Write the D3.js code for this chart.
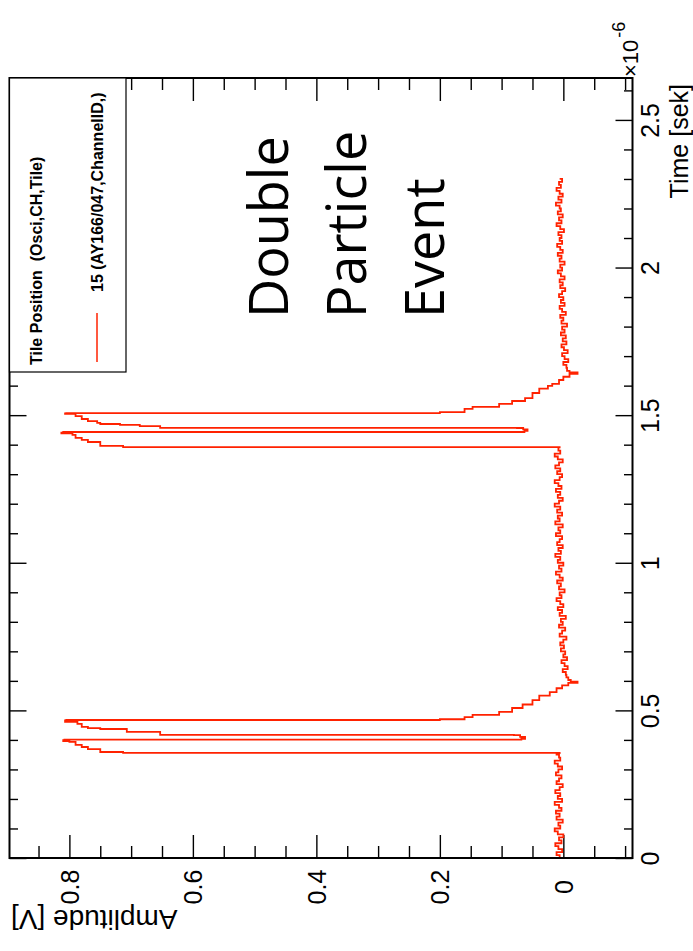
<!DOCTYPE html>
<html><head><meta charset="utf-8">
<script src="https://cdn.jsdelivr.net/npm/d3@7"></script>
<style>body{margin:0;background:#fff} svg{display:block}</style>
</head><body>
<svg id="chart" width="693" height="951"></svg>
<script>
// ---- data: [time (µs), amplitude (V)] ----
const baseline1 = [[0.00,0.006],[0.01,0.011],[0.02,0.002],[0.03,0.008],[0.04,0.013],[0.05,0.003],[0.06,0.007],[0.07,0.000],[0.08,0.009],[0.09,0.014],[0.10,0.005],[0.11,0.008],[0.12,0.001],[0.13,0.011],[0.14,0.006],[0.15,0.012],[0.16,0.003],[0.17,0.007],[0.18,0.014],[0.19,0.002],[0.20,0.009],[0.21,0.005],[0.22,0.013],[0.23,0.006],[0.24,0.001],[0.25,0.011],[0.26,0.007],[0.27,0.003],[0.28,0.012],[0.29,0.008],[0.30,0.002],[0.31,0.009],[0.32,0.014],[0.33,0.005],[0.34,0.007],[0.35,0.011]];
const pulse1 = [[0.355,0.006],[0.356,0.713],[0.359,0.75],[0.369,0.77],[0.376,0.78],[0.383,0.79],[0.393,0.80],[0.396,0.81],[0.399,0.808],[0.401,0.068],[0.404,0.062],[0.410,0.07],[0.4165,0.08],[0.417,0.653],[0.427,0.707],[0.437,0.75],[0.440,0.77],[0.444,0.78],[0.454,0.787],[0.461,0.807],[0.4665,0.805],[0.4675,0.2],[0.470,0.16],[0.477,0.147],[0.485,0.104],[0.495,0.083],[0.508,0.066],[0.52,0.05],[0.535,0.039],[0.55,0.022],[0.562,0.011],[0.575,0.002],[0.585,-0.008],[0.593,-0.023],[0.597,-0.012],[0.603,-0.008],[0.612,-0.005]];
const baseline2 = [[0.62,-0.004],[0.63,0.001],[0.64,-0.007],[0.65,-0.002],[0.66,0.003],[0.67,-0.006],[0.68,0.000],[0.69,-0.003],[0.70,0.004],[0.71,-0.001],[0.72,0.005],[0.73,0.000],[0.74,-0.005],[0.75,0.006],[0.76,0.002],[0.77,-0.003],[0.78,0.007],[0.79,0.001],[0.80,0.004],[0.81,-0.004],[0.82,0.006],[0.83,0.002],[0.84,0.009],[0.85,0.000],[0.86,0.005],[0.87,0.011],[0.88,0.003],[0.89,0.006],[0.90,-0.002],[0.91,0.007],[0.92,0.004],[0.93,0.010],[0.94,0.001],[0.95,0.006],[0.96,0.012],[0.97,0.003],[0.98,0.007],[0.99,0.000],[1.00,0.009],[1.01,0.005],[1.02,0.013],[1.03,0.004],[1.04,0.008],[1.05,0.001],[1.06,0.010],[1.07,0.006],[1.08,0.002],[1.09,0.012],[1.10,0.005],[1.11,0.008],[1.12,0.001],[1.13,0.013],[1.14,0.006],[1.15,0.009],[1.16,0.002],[1.17,0.010],[1.18,0.005],[1.19,0.014],[1.20,0.007],[1.21,0.001],[1.22,0.009],[1.23,0.005],[1.24,0.012],[1.25,0.003],[1.26,0.008],[1.27,0.014],[1.28,0.006],[1.29,0.002],[1.30,0.010],[1.31,0.005],[1.32,0.013],[1.33,0.007],[1.34,0.001],[1.35,0.009],[1.36,0.014],[1.37,0.005],[1.38,0.008]];
const pulse2 = [[1.391,0.006],[1.392,0.713],[1.396,0.75],[1.409,0.77],[1.416,0.78],[1.423,0.79],[1.433,0.795],[1.438,0.813],[1.441,0.81],[1.443,0.063],[1.447,0.058],[1.452,0.065],[1.4565,0.075],[1.457,0.653],[1.463,0.686],[1.467,0.718],[1.470,0.75],[1.474,0.755],[1.480,0.77],[1.487,0.78],[1.497,0.79],[1.504,0.807],[1.506,0.805],[1.507,0.2],[1.510,0.16],[1.521,0.147],[1.528,0.104],[1.538,0.083],[1.548,0.062],[1.558,0.050],[1.575,0.039],[1.590,0.025],[1.599,0.018],[1.606,0.007],[1.619,0.0],[1.630,-0.01],[1.640,-0.023],[1.645,-0.01],[1.650,-0.006]];
const baseline3 = [[1.66,-0.005],[1.67,0.000],[1.68,-0.008],[1.69,-0.002],[1.70,0.002],[1.71,-0.007],[1.72,-0.001],[1.73,0.003],[1.74,-0.005],[1.75,0.001],[1.76,-0.004],[1.77,0.004],[1.78,-0.002],[1.79,0.002],[1.80,-0.006],[1.81,0.003],[1.82,0.000],[1.83,0.005],[1.84,-0.004],[1.85,0.002],[1.86,0.006],[1.87,-0.002],[1.88,0.004],[1.89,0.000],[1.90,0.007],[1.91,0.002],[1.92,-0.003],[1.93,0.005],[1.94,0.001],[1.95,0.006],[1.96,-0.002],[1.97,0.004],[1.98,0.009],[1.99,0.002],[2.00,0.005],[2.01,-0.002],[2.02,0.006],[2.03,0.003],[2.04,0.009],[2.05,0.001],[2.06,0.005],[2.07,0.010],[2.08,0.002],[2.09,0.006],[2.10,0.003],[2.11,0.008],[2.12,-0.001],[2.13,0.005],[2.14,0.011],[2.15,0.003],[2.16,0.007],[2.17,0.001],[2.18,0.009],[2.19,0.004],[2.20,0.006],[2.21,0.012],[2.22,0.003],[2.23,0.008],[2.24,0.001],[2.25,0.006],[2.26,0.011],[2.27,0.004],[2.28,0.007],[2.29,0.002],[2.30,0.006]];

const ampMajorTicks = [0, 0.2, 0.4, 0.6, 0.8];
const ampTickLabels = ["0", "0.2", "0.4", "0.6", "0.8"];
const ampMinorTicks = [-0.1,-0.05,0.05,0.1,0.15,0.25,0.3,0.35,0.45,0.5,0.55,0.65,0.7,0.75,0.85];
const timeMajorTicks = [0, 0.5, 1, 1.5, 2, 2.5];
const timeTickLabels = ["0", "0.5", "1", "1.5", "2", "2.5"];
const timeMinorTicks = [0.1,0.2,0.3,0.4,0.6,0.7,0.8,0.9,1.1,1.2,1.3,1.4,1.6,1.7,1.8,1.9,2.1,2.2,2.3,2.4,2.6];
const annotationLines = ["Double", "Particle", "Event"];
const legendTitle = "Tile Position  (Osci,CH,Tile)";
const legendEntry = "15 (AY166/047,ChannelID,)";

const trace = [].concat(baseline1, pulse1, baseline2, pulse2, baseline3);

// ---- layout (rotated ROOT canvas: time runs upward, amplitude leftward) ----
const frame = {left: 9.5, right: 632.5, top: 78, bottom: 858};
const x = d3.scaleLinear().domain([0.897, -0.112]).range([frame.left, frame.right]);
const y = d3.scaleLinear().domain([0, 2.642]).range([frame.bottom, frame.top]);
const FONT = "'Liberation Sans', Arial, Helvetica, sans-serif";

const svg = d3.select("#chart");
svg.append("rect").attr("width", 693).attr("height", 951).attr("fill", "#fff");

function styleAxis(g) {
  g.select(".domain").remove();
  g.selectAll(".tick line").attr("stroke", "#000").attr("stroke-width", 1.4);
  g.attr("font-family", FONT).attr("font-size", 25);
}

// amplitude axis (bottom, labelled) + top mirror
svg.append("g").attr("transform", `translate(0,${frame.bottom})`)
  .call(d3.axisBottom(x).tickValues(ampMinorTicks).tickSize(-12).tickFormat(""))
  .call(styleAxis);
const ampAx = svg.append("g").attr("transform", `translate(0,${frame.bottom})`)
  .call(d3.axisBottom(x).tickValues(ampMajorTicks).tickSize(-23).tickPadding(0)
        .tickFormat((d, i) => ampTickLabels[i]))
  .call(styleAxis);
ampAx.selectAll(".tick text").attr("y", null).attr("dy", null)
  .attr("text-anchor", "middle").attr("fill", "#000")
  .attr("transform", "translate(9,29) rotate(-90)");
svg.append("g").attr("transform", `translate(0,${frame.top})`)
  .call(d3.axisTop(x).tickValues(ampMinorTicks).tickSize(-12).tickFormat(""))
  .call(styleAxis);
svg.append("g").attr("transform", `translate(0,${frame.top})`)
  .call(d3.axisTop(x).tickValues(ampMajorTicks).tickSize(-23).tickFormat(""))
  .call(styleAxis);

// time axis (right, labelled) + left mirror
svg.append("g").attr("transform", `translate(${frame.right},0)`)
  .call(d3.axisRight(y).tickValues(timeMinorTicks).tickSize(-8.5).tickFormat(""))
  .call(styleAxis);
const timeAx = svg.append("g").attr("transform", `translate(${frame.right},0)`)
  .call(d3.axisRight(y).tickValues(timeMajorTicks).tickSize(-17).tickPadding(0)
        .tickFormat((d, i) => timeTickLabels[i]))
  .call(styleAxis);
timeAx.selectAll(".tick text").attr("x", null).attr("dy", null)
  .attr("text-anchor", "middle").attr("fill", "#000")
  .attr("transform", "translate(26,0) rotate(-90)");
svg.append("g").attr("transform", `translate(${frame.left},0)`)
  .call(d3.axisLeft(y).tickValues(timeMinorTicks).tickSize(-8.5).tickFormat(""))
  .call(styleAxis);
svg.append("g").attr("transform", `translate(${frame.left},0)`)
  .call(d3.axisLeft(y).tickValues(timeMajorTicks).tickSize(-17).tickFormat(""))
  .call(styleAxis);

// trace
const line = d3.line().x(d => x(d[1])).y(d => y(d[0])).curve(d3.curveStepBefore);
svg.append("path").datum(trace).attr("d", line)
  .attr("fill", "none").attr("stroke", "#ff2200").attr("stroke-width", 1.8)
  .attr("stroke-linejoin", "miter");

// frame
svg.append("rect").attr("x", frame.left).attr("y", frame.top)
  .attr("width", frame.right - frame.left).attr("height", frame.bottom - frame.top)
  .attr("fill", "none").attr("stroke", "#000").attr("stroke-width", 2);

// axis titles
svg.append("text").attr("transform", `translate(11,910) rotate(180)`)
  .attr("text-anchor", "end").attr("font-family", FONT).attr("font-size", 28)
  .text("Amplitude [V]");
svg.append("text").attr("transform", `translate(688,84) rotate(-90)`)
  .attr("text-anchor", "end").attr("font-family", FONT).attr("font-size", 25)
  .text("Time [sek]");
const mult = svg.append("text").attr("transform", `translate(638,77) rotate(-90)`)
  .attr("font-family", FONT).attr("font-size", 22);
mult.append("tspan").text("\u00d710");
mult.append("tspan").attr("dy", -13).attr("dx", 2).attr("font-size", 18).text("-6");

// legend
svg.append("rect").attr("x", frame.left).attr("y", frame.top)
  .attr("width", 126 - frame.left).attr("height", 372 - frame.top)
  .attr("fill", "#fff").attr("stroke", "#000").attr("stroke-width", 1.2);
svg.append("text").attr("transform", "translate(42,365) rotate(-90)")
  .attr("font-family", FONT).attr("font-weight", "bold").attr("font-size", 16)
  .style("white-space", "pre").text(legendTitle);
svg.append("line").attr("x1", 97).attr("x2", 97).attr("y1", 362).attr("y2", 313)
  .attr("stroke", "#ff2200").attr("stroke-width", 1.5);
svg.append("text").attr("transform", "translate(103,292) rotate(-90)")
  .attr("font-family", FONT).attr("font-weight", "bold").attr("font-size", 16)
  .text(legendEntry);

// annotation
const annX = [288, 366, 444];
annotationLines.forEach((t, i) => {
  svg.append("text").attr("transform", `translate(${annX[i]},318) rotate(-90)`)
    .attr("font-family", "'Open Sans', sans-serif").attr("font-size", 54)
    .text(t);
});
</script>
</body></html>
